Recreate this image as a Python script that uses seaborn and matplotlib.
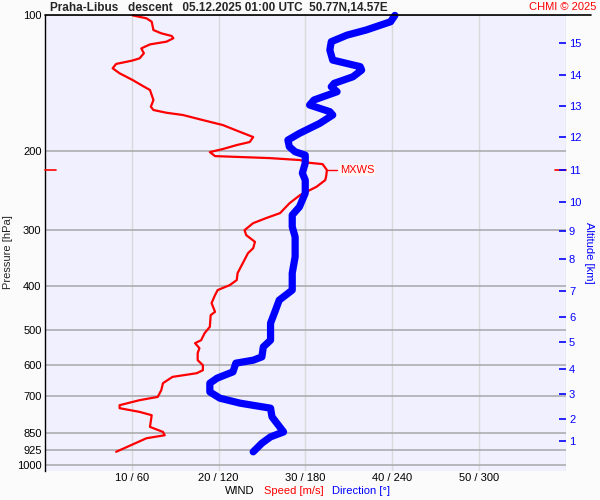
import numpy as np
import matplotlib
matplotlib.use("Agg")
import matplotlib.pyplot as plt
import seaborn as sns
from matplotlib.ticker import NullLocator
from matplotlib.lines import Line2D

# ---- data ----
speed_p = [100, 101.5, 103.3, 107.8, 109.6, 111.1, 112.4, 114.4, 116.0, 118.4, 121.4, 124.6,
           126.1, 128.2, 131.1, 134.5, 139.2, 143.6, 146.5, 154.2, 159.6, 162.3, 164.6, 166.5,
           170.9, 175.3, 181.6, 186.4, 191.2, 194.2, 198.2, 201.3, 205.5, 207.6, 209.7, 212.7,
           214.1, 220.8, 228.5, 232.4, 240.4, 250.9, 261.4, 275.1, 282.2, 289.6, 300.2, 308.0,
           318.7, 329.2, 337.7, 355.4, 374.1, 387.7, 397.7, 408.0, 418.6, 436.1, 456.0, 463.8,
           492.5, 508.6, 527.2, 535.4, 549.3, 563.5, 584.1, 599.3, 614.8, 624.3, 636.2, 657.1,
           681.1, 704.8, 716.8, 735.4, 746.8, 761.1, 774.1, 821.9, 843.3, 857.7, 871.0, 933.6]
speed = [10.1, 11.7, 12.3, 12.5, 13.4, 14.6, 14.8, 14.0, 12.1, 11.1, 11.4, 10.9,
         10.0, 8.2, 7.8, 8.6, 10.1, 11.3, 12.1, 12.5, 12.2, 12.5, 14.0, 15.9,
         18.2, 20.5, 22.5, 24.0, 23.6, 22.1, 20.5, 19.0, 19.6, 25.9, 29.4, 30.5,
         32.0, 32.5, 32.4, 32.3, 31.3, 29.4, 28.2, 27.1, 25.5, 24.0, 23.0, 23.2,
         24.2, 24.0, 23.4, 22.8, 22.2, 22.1, 21.3, 19.9, 19.6, 19.2, 19.6, 19.1,
         19.0, 18.4, 18.0, 17.3, 17.8, 17.6, 17.6, 18.2, 18.2, 17.5, 14.7, 13.6,
         13.4, 13.0, 10.9, 8.6, 8.6, 10.9, 12.3, 12.1, 13.6, 13.8, 11.7, 8.2]

dir_p = [100.0, 103.3, 107.8, 110.6, 114.4, 119.4, 125.7, 130.0, 132.3, 136.9, 141.6, 144.1,
         147.8, 154.2, 158.2, 163.7, 166.5, 173.8, 182.9, 189.3, 195.9, 201.0, 204.5, 213.0,
         224.2, 232.4, 248.4, 266.4, 277.9, 295.1, 310.7, 344.1, 374.1, 408.0, 429.5, 456.0,
         483.3, 527.2, 545.7, 574.3, 584.1, 593.1, 620.1, 640.5, 657.1, 687.1, 709.6, 727.9,
         746.8, 780.6, 843.3, 864.9, 893.4, 933.6]
direction = [242, 239, 222, 209, 198, 197, 199, 218, 219, 213, 200, 198,
             202, 186, 183, 197, 199, 190, 176, 168, 169, 173, 180, 180,
             178, 180, 180, 176, 171, 171, 173, 173, 171, 171, 162, 159,
             156, 156, 151, 150, 144, 132, 130, 119, 114, 114, 121, 135,
             156, 157, 165, 156, 150, 144]

p_ticks = [100, 200, 300, 400, 500, 600, 700, 850, 925, 1000]
x_ticks = [10, 20, 30, 40, 50, 60]
x_labels = ["10 / 60", "20 / 120", "30 / 180", "40 / 240", "50 / 300", ""]
alt_km = list(range(1, 16))
alt_p = [884.7, 788.9, 695.2, 609.6, 533.5, 468.0, 409.6, 348.7, 301.6, 259.7,
         220.7, 186.7, 159.0, 135.7, 115.3]

title = "Praha-Libus   descent   05.12.2025 01:00 UTC  50.77N,14.57E"

# ---- style ----
sns.set_theme(style="white")
plt.rcParams["font.family"] = ["Liberation Sans", "DejaVu Sans"]

RED = "#FF0000"
BLUE = "#0000FF"
W, H = 600, 500

fig = plt.figure(figsize=(6, 5), dpi=100, facecolor="#FBFBFB")
ax_l, ax_r, ax_t, ax_b = 45, 565.5, 15.4, 471
ax = fig.add_axes([ax_l / W, 1 - ax_b / H, (ax_r - ax_l) / W, (ax_b - ax_t) / H])
ax.set_facecolor("#F0F0FF")

ax.set_yscale("log")
ax.set_ylim(1030, 100)
ax.set_xlim(0, 60)

ax.set_yticks(p_ticks)
ax.set_yticklabels([str(p) for p in p_ticks])
ax.yaxis.set_minor_locator(NullLocator())
ax.set_xticks(x_ticks)
ax.set_xticklabels(x_labels)
ax.tick_params(axis="y", length=0, pad=2.5, labelsize=8, labelcolor="black")
ax.tick_params(axis="x", length=0, pad=1.5, labelsize=8, labelcolor="black")

ax.set_axisbelow(True)
ax.grid(axis="y", which="major", color="#A8A8A8", lw=1.1)
ax.grid(axis="x", which="major", color="#DADADA", lw=1.0)

for s in ["top", "right", "bottom"]:
    ax.spines[s].set_visible(False)
ax.spines["left"].set_color("black")
ax.spines["left"].set_linewidth(1.0)

# ---- curves ----
sns.lineplot(x=speed, y=speed_p, sort=False, estimator=None, orient="y",
             color=RED, lw=1.6, ax=ax, zorder=3)
dir_scaled = np.array(direction, dtype=float) / 6.0
sns.lineplot(x=dir_scaled, y=dir_p, sort=False, estimator=None, orient="y",
             color=BLUE, lw=5.2, ax=ax, zorder=4, solid_capstyle="round")
for ln in ax.lines:
    ln.set_clip_on(False)
ax.set_xlabel("")
ax.set_ylabel("")

# ---- max wind marker ----
imx = int(np.argmax(speed))
s_mx, p_mx = speed[imx], speed_p[imx]
ax.plot([s_mx, s_mx + 1.2], [p_mx, p_mx], color=RED, lw=1.0, zorder=5)
ax.text(s_mx + 1.5, p_mx, "MXWS", color=RED, fontsize=8, va="center", ha="left",
        bbox=dict(facecolor="#FFF6F6", edgecolor="none", pad=0.6), zorder=5)
ax.plot([0, 1.25], [p_mx, p_mx], color=RED, lw=1.2, clip_on=False, zorder=6)
ax.plot([58.75, 60], [p_mx, p_mx], color=RED, lw=1.2, clip_on=False, zorder=6)

# ---- right altitude axis ----
ax2 = ax.twinx()
ax2.set_yscale("log")
ax2.set_ylim(ax.get_ylim())
ax2.set_yticks(alt_p)
ax2.set_yticklabels([str(a) for a in alt_km])
ax2.yaxis.set_minor_locator(NullLocator())
ax2.tick_params(axis="y", direction="in", length=5, width=1.2, color=BLUE,
                labelcolor=BLUE, labelsize=8, pad=2.5)
for s in ax2.spines.values():
    s.set_visible(False)
ax2.grid(False)

# ---- texts ----
fig.add_artist(Line2D([45 / W, 591 / W], [1 - 15.4 / H] * 2, color="black", lw=1.2,
                      transform=fig.transFigure))
fig.text(50 / W, 1 - 8 / H, title, fontsize=8.5, fontweight="bold", va="center", ha="left")
fig.text(596 / W, 1 - 7 / H, "CHMI \u00a9 2025", fontsize=8, color=RED, va="center", ha="right")
fig.text(8 / W, 1 - 252 / H, "Pressure [hPa]", rotation=90, fontsize=8, va="center", ha="center")
fig.text(589 / W, 1 - 253 / H, "Altitude [km]", rotation=270, fontsize=8, color=BLUE,
         va="center", ha="center")
fig.text(225 / W, 1 - 491 / H, "WIND", fontsize=8, color="black", va="center", ha="left")
fig.text(264 / W, 1 - 491 / H, "Speed [m/s]", fontsize=8, color=RED, va="center", ha="left")
fig.text(332 / W, 1 - 491 / H, "Direction [\u00b0]", fontsize=8, color=BLUE, va="center", ha="left")

fig.savefig("out.png", dpi=100, facecolor=fig.get_facecolor())
